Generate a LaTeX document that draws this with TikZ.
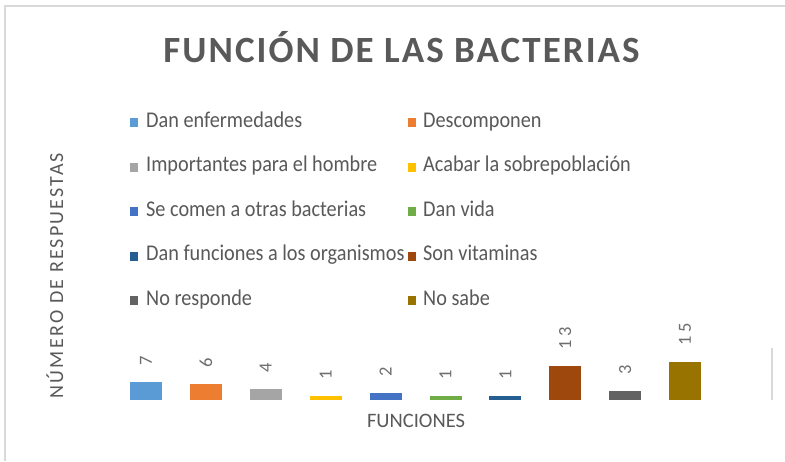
\documentclass[tikz,border=0pt]{standalone}
\usepackage{fontspec}
\setmainfont{Carlito}
\newfontfamily\titlefont[LetterSpace=5.5]{Carlito}
\newfontfamily\axisfont[LetterSpace=11]{Carlito}
\newfontfamily\valfont[LetterSpace=20]{Carlito}
\definecolor{txtgray}{HTML}{595959}
\definecolor{valgray}{HTML}{6E6E6E}
\definecolor{bordergray}{HTML}{D9D9D9}
\definecolor{cA}{HTML}{5B9BD5}
\definecolor{cB}{HTML}{ED7D31}
\definecolor{cC}{HTML}{A5A5A5}
\definecolor{cD}{HTML}{FFC000}
\definecolor{cE}{HTML}{4472C4}
\definecolor{cF}{HTML}{70AD47}
\definecolor{cG}{HTML}{255E91}
\definecolor{cH}{HTML}{9E480E}
\definecolor{cI}{HTML}{636363}
\definecolor{cJ}{HTML}{997300}
\newcommand{\legtxt}[1]{\scalebox{0.9}[1]{#1}}
\tikzset{
  border/.style={draw=bordergray, line width=1.2pt},
  charttitle/.style={font=\titlefont\bfseries\fontsize{37pt}{40pt}\selectfont, text=txtgray, inner sep=0pt, anchor=base},
  legsq/.style={inner sep=0pt, outer sep=0pt, minimum width=8pt, minimum height=9pt, anchor=south west},
  legtext/.style={font=\fontsize{22.5pt}{25pt}\selectfont, text=txtgray, inner sep=0pt, anchor=base west},
  barbox/.style={inner sep=0pt, outer sep=0pt, minimum width=32pt, anchor=south},
  vallabel/.style={font=\valfont\fontsize{18.5pt}{20pt}\selectfont, text=valgray, inner sep=0pt, rotate=90, anchor=west},
  axislabel/.style={font=\axisfont\fontsize{20pt}{22pt}\selectfont, text=txtgray, inner sep=0pt, rotate=90, anchor=base},
  xlabel/.style={font=\fontsize{20.5pt}{22pt}\selectfont, text=txtgray, inner sep=0pt, anchor=base}
}
\begin{document}
\begin{tikzpicture}[x=1pt,y=-1pt]
\useasboundingbox (0,0) rectangle (785,461);
\fill[white] (0,0) rectangle (785,461);
\draw[border] (5,461) -- (5,6) -- (785,6);
\draw[border] (772,348) -- (772,400);
\node[charttitle] (title) at (401.5,62) {FUNCIÓN DE LAS BACTERIAS};
% legend
\foreach \k/\row/\col/\c/\t in {
  1/0/0/cA/Dan enfermedades,
  2/0/1/cB/Descomponen,
  3/1/0/cC/Importantes para el hombre,
  4/1/1/cD/Acabar la sobrepoblación,
  5/2/0/cE/Se comen a otras bacterias,
  6/2/1/cF/Dan vida,
  7/3/0/cG/Dan funciones a los organismos,
  8/3/1/cH/Son vitaminas,
  9/4/0/cI/No responde,
  10/4/1/cJ/No sabe}{
  \pgfmathsetmacro{\yy}{127+44.5*\row}
  \pgfmathsetmacro{\xs}{130+278*\col}
  \pgfmathsetmacro{\xt}{146+277*\col}
  \node[legsq, fill=\c] (sq\k) at (\xs,\yy) {};
  \node[legtext] (lt\k) at (\xt,\yy) {\legtxt{\t}};
}
% bars
\foreach \i/\v/\h/\c in {1/7/18/cA, 2/6/16/cB, 3/4/11/cC, 4/1/4/cD, 5/2/7/cE,
  6/1/4/cF, 7/1/4/cG, 8/13/34.5/cH, 9/3/9/cI, 10/15/38.5/cJ}{
  \pgfmathsetmacro{\cx}{146+59.9*(\i-1)}
  \node[barbox, minimum height=\h pt, fill=\c] (bar\i) at (\cx,400) {};
  \node[vallabel] (val\i) at ([yshift=16pt]bar\i.north) {\v};
}
\node[axislabel] (ylab) at (63,275.5) {NÚMERO DE RESPUESTAS};
\node[xlabel] (xlab) at (416,427) {FUNCIONES};
\end{tikzpicture}
\end{document}
